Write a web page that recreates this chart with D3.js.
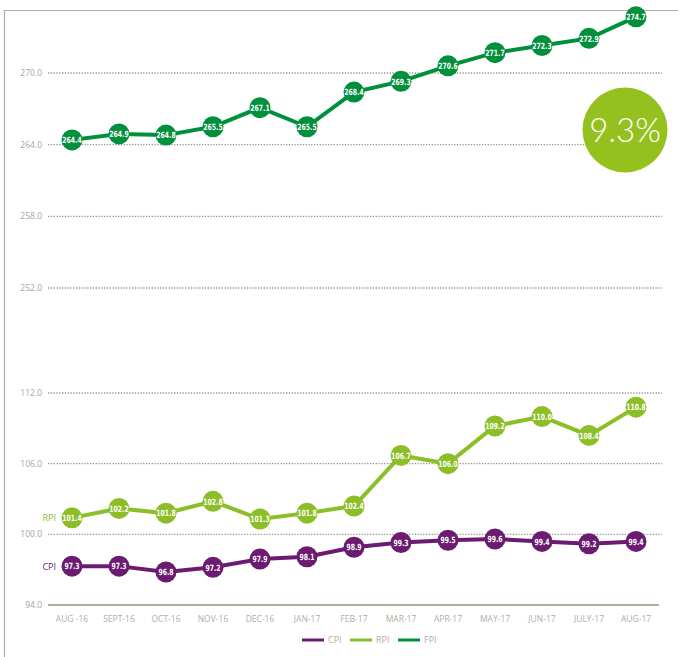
<!DOCTYPE html>
<html>
<head>
<meta charset="utf-8">
<script src="https://cdn.jsdelivr.net/npm/d3@7"></script>
<style>
  body { margin: 0; background: #fff; }
  svg { display: block; font-family: "Open Sans", "DejaVu Sans", sans-serif; }
</style>
</head>
<body>
<svg id="chart" width="678" height="657"></svg>
<script>
const months = ["AUG -16", "SEPT-16", "OCT-16", "NOV-16", "DEC-16", "JAN-17", "FEB-17",
                "MAR-17", "APR-17", "MAY-17", "JUN-17", "JULY-17", "AUG-17"]
const cpi = [97.3, 97.3, 96.8, 97.2, 97.9, 98.1, 98.9, 99.3, 99.5, 99.6, 99.4, 99.2, 99.4]
const rpi = [101.4, 102.2, 101.8, 102.8, 101.3, 101.8, 102.4, 106.7, 106.0, 109.2, 110.0, 108.4, 110.8]
const fpi = [264.4, 264.9, 264.8, 265.5, 267.1, 265.5, 268.4, 269.3, 270.6, 271.7, 272.3, 272.9, 274.7]
const upperTicks = [270, 264, 258, 252]
const lowerTicks = [112, 106, 100, 94]
const growth = "9.3%"

const svg = d3.select('#chart')
const frame = "#b3aaa0"

// cadre (haut + gauche)
svg.append('line').attr('x1', 4).attr('x2', 678).attr('y1', 10.5).attr('y2', 10.5)
    .attr('stroke', frame).attr('stroke-width', 1.2)
svg.append('line').attr('x1', 4.5).attr('x2', 4.5).attr('y1', 10).attr('y2', 657)
    .attr('stroke', frame).attr('stroke-width', 1.2)

const x = d3.scalePoint().domain(months).range([72, 636])

// deux échelles : axe coupé
const yUp = d3.scaleLinear().domain([252, 270]).range([288, 73])
const yLow = d3.scaleLinear().domain([94, 112]).range([605, 393])

// grilles pointillées
const grid = (ticks, y) => {
    svg.append('g').selectAll('line')
        .data(ticks.filter(t => t !== 94))
        .join('line')
        .attr('x1', 48).attr('x2', 662)
        .attr('y1', d => y(d)).attr('y2', d => y(d))
        .attr('stroke', '#9a938c')
        .attr('stroke-width', 1.3)
        .attr('stroke-dasharray', '1.3,1.5')
    svg.append('g').selectAll('text')
        .data(ticks)
        .join('text')
        .attr('x', 42).attr('y', d => y(d) + 3)
        .attr('text-anchor', 'end')
        .attr('font-size', 8.5)
        .attr('fill', '#aaa39c')
        .text(d => d.toFixed(1))
}
grid(upperTicks, yUp)
grid(lowerTicks, yLow)

// ligne de base
svg.append('line').attr('x1', 48).attr('x2', 659)
    .attr('y1', yLow(94)).attr('y2', yLow(94))
    .attr('stroke', frame).attr('stroke-width', 2)

// étiquettes des mois
svg.append('g').selectAll('text')
    .data(months)
    .join('text')
    .attr('x', d => x(d)).attr('y', 622)
    .attr('text-anchor', 'middle')
    .attr('font-size', 8.5)
    .attr('fill', '#b3aca5')
    .text(d => d)

const series = [
    { name: 'CPI', values: cpi, y: yLow, color: '#6b1b70' },
    { name: 'RPI', values: rpi, y: yLow, color: '#8cbe27' },
    { name: 'FPI', values: fpi, y: yUp, color: '#00903b' }
]

series.forEach(s => {
    const line = d3.line()
        .x((d, i) => x(months[i]))
        .y(d => s.y(d))
    svg.append('path')
        .datum(s.values)
        .attr('d', line)
        .attr('fill', 'none')
        .attr('stroke', s.color)
        .attr('stroke-width', 4)

    const pts = svg.append('g').selectAll('g')
        .data(s.values)
        .join('g')
        .attr('transform', (d, i) => `translate(${x(months[i])},${s.y(d)})`)
    pts.append('circle').attr('r', 10.5).attr('fill', s.color)
    // texte étroit : on compresse horizontalement
    pts.append('text')
        .attr('transform', 'scale(0.72,1)')
        .attr('y', 3.2)
        .attr('text-anchor', 'middle')
        .attr('font-family', '"DejaVu Sans", sans-serif')
        .attr('font-weight', 'bold')
        .attr('font-size', 8.5)
        .attr('fill', '#fff')
        .text(d => d.toFixed(1))
})

// noms CPI / RPI à gauche
series.filter(s => s.name !== 'FPI').forEach(s => {
    svg.append('text')
        .attr('x', 56).attr('y', s.y(s.values[0]) + 3.5)
        .attr('text-anchor', 'end')
        .attr('font-size', 9)
        .attr('fill', s.color)
        .text(s.name)
})

// pastille 9.3%
svg.append('circle').attr('cx', 625).attr('cy', 130).attr('r', 42.5).attr('fill', '#95c11f')
svg.append('text')
    .attr('x', 625).attr('y', 142)
    .attr('text-anchor', 'middle')
    .attr('font-family', 'Lato, "Open Sans", sans-serif')
    .attr('font-weight', 300)
    .attr('font-size', 33)
    .attr('fill', '#fff')
    .text(growth)

// légende
const legend = svg.append('g').selectAll('g')
    .data(series)
    .join('g')
    .attr('transform', (d, i) => `translate(${302 + i * 48},640)`)
legend.append('line').attr('x1', 0).attr('x2', 22)
    .attr('stroke', d => d.color).attr('stroke-width', 3)
legend.append('text')
    .attr('x', 26).attr('y', 3)
    .attr('font-size', 9)
    .attr('fill', '#b3aca5')
    .text(d => d.name)
</script>
</body>
</html>
